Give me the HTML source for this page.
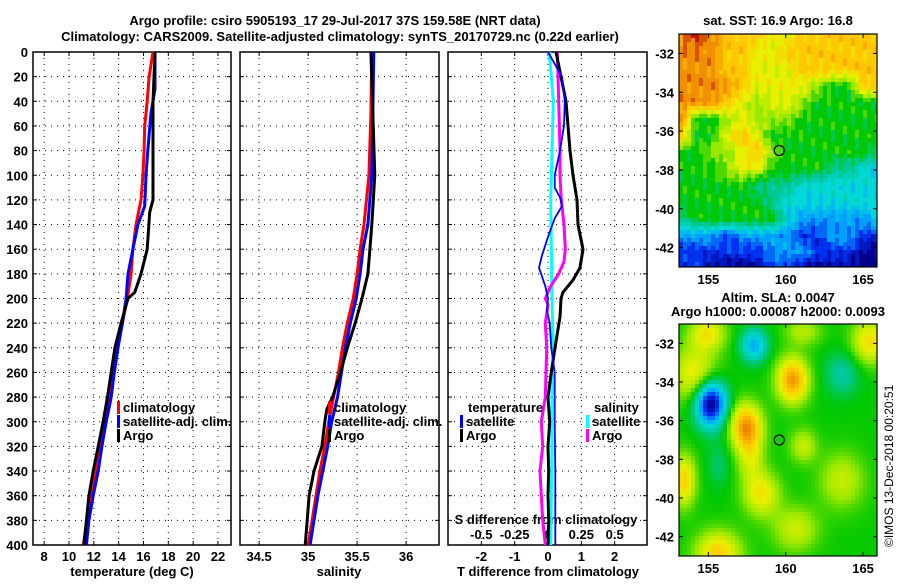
<!DOCTYPE html>
<html><head><meta charset="utf-8"><style>
body{margin:0;background:#fff;width:900px;height:580px;overflow:hidden}
svg text{font-family:"Liberation Sans",sans-serif;font-weight:bold;font-size:13px;fill:#000}
</style></head><body>
<svg id="s" width="900" height="580" xmlns="http://www.w3.org/2000/svg">
<text x="335" y="25" text-anchor="middle">Argo profile: csiro 5905193_17 29-Jul-2017 37S 159.58E (NRT data)</text>
<text x="340" y="41" text-anchor="middle">Climatology: CARS2009. Satellite-adjusted climatology: synTS_20170729.nc (0.22d earlier)</text>
<text x="778" y="25" text-anchor="middle">sat. SST: 16.9 Argo: 16.8</text>
<text x="778" y="302" text-anchor="middle">Altim. SLA: 0.0047</text>
<text x="778" y="316" text-anchor="middle">Argo h1000: 0.00087 h2000: 0.0093</text>
<text transform="translate(893,547) rotate(-90)" style="font-weight:normal;font-size:12px">©IMOS 13-Dec-2018 00:20:51</text>
<g id="g"></g>
</svg>
<script>
// ---- data ----
const depthTick=[0,20,40,60,80,100,120,140,160,180,200,220,240,260,280,300,320,340,360,380,400];
const tTicks=[8,10,12,14,16,18,20,22];
const sTicks=[34.5,35,35.5,36];
const sTickLbl=["34.5","35","35.5","36"];
const dTicks=[-2,-1,0,1,2];
const sdTicks=[-0.5,-0.25,0,0.25,0.5];
const sdTickLbl=["-0.5","-0.25","0","0.25","0.5"];

const tClimD=[0,20,40,60,80,100,120,140,160,180,200,220,240,260,280,300,320,340,360,380,400];
const tClim=[16.77,16.45,16.3,16.1,16.05,15.95,15.8,15.4,15.15,15.0,14.7,14.3,13.9,13.55,13.2,12.8,12.5,12.2,11.8,11.45,11.15];
const tSatD=[0,30,50,80,100,125,140,160,180,200,220,240,260,280,300,320,340,360,380,400];
const tSat=[16.93,16.93,16.6,16.35,16.2,16.1,15.55,15.15,14.75,14.6,14.3,13.95,13.65,13.4,13.0,12.65,12.35,11.95,11.6,11.4];
const tArgoD=[0,40,120,130,160,180,195,200,220,240,260,280,300,320,340,360,380,400];
const tArgo=[16.93,16.77,16.77,16.5,16.3,15.8,15.3,14.75,14.2,13.7,13.4,13.1,12.75,12.35,11.95,11.6,11.4,11.2];

const sD=[0,50,100,140,160,180,200,220,240,260,280,300,320,340,360,380,400];
const sClim=[35.65,35.64,35.62,35.57,35.53,35.50,35.46,35.40,35.35,35.31,35.26,35.21,35.17,35.12,35.08,35.04,35.0];
const sSat=[35.67,35.66,35.65,35.61,35.56,35.53,35.49,35.43,35.38,35.34,35.30,35.24,35.20,35.15,35.10,35.06,35.02];
const sArgoD=[0,100,140,160,180,200,220,240,260,280,290,300,320,340,360,380,400];
const sArgo=[35.64,35.68,35.65,35.63,35.61,35.55,35.48,35.40,35.33,35.25,35.19,35.17,35.14,35.06,35.01,34.99,34.97];

const dTSatD=[0,20,40,60,80,100,110,118,125,135,150,165,175,190,200,210,220,240,260,300,340,400];
const dTSat=[0,0.42,0.5,0.48,0.36,0.2,0.2,0.36,0.42,0.2,0,-0.18,-0.27,-0.08,0,-0.03,0.05,0.1,0.2,0.2,0.22,0.22];
const dTArgoD=[0,20,40,60,80,100,120,140,160,175,185,195,200,215,225,240,260,280,300,320,340,360,380,400];
const dTArgo=[0.24,0.39,0.54,0.6,0.66,0.75,0.87,0.9,1.05,0.96,0.75,0.45,0.39,0.36,0.3,0.21,0.1,0.0,0.05,0.0,0.02,0.0,0.02,0.0];
const dSD=[0,40,80,120,160,200,240,280,320,360,400];
const dSSat=[0.01,0.04,0.03,0.02,0.025,0.03,0.04,0.03,0.03,0.025,0.02];
const dSArgoD=[0,40,80,100,120,140,160,170,180,190,200,205,220,240,280,300,320,340,360,380,400];
const dSArgo=[0.07,0.08,0.09,0.09,0.1,0.12,0.13,0.12,0.08,0.02,-0.02,0.0,-0.02,-0.01,-0.02,-0.05,-0.04,-0.06,-0.05,-0.04,-0.02];

// ---- helpers ----
const NS="http://www.w3.org/2000/svg", G=document.getElementById('g');
function mk(t,a,p){const e=document.createElementNS(NS,t);for(const k in a)e.setAttribute(k,a[k]);(p||G).appendChild(e);return e;}
const TOP=52,BOT=545;
const yD=d=>TOP+d*(BOT-TOP)/400;
function lin(d0,d1,r0,r1){return v=>r0+(v-d0)*(r1-r0)/(d1-d0);}
const P=[{x0:33,x1:231},{x0:240,x1:439},{x0:448,x1:647}];
const xT=lin(7.1,23.05,33,231), xS=lin(34.305,36.335,240,439), xDT=lin(-3,3,448,648), xDS=lin(-0.75,0.75,448,648);

P.forEach((p,i)=>{
  const fr=mk('rect',{x:p.x0,y:TOP,width:p.x1-p.x0,height:BOT-TOP,fill:'#fff',stroke:'#000','stroke-width':1.5});
  
  
  depthTick.forEach(d=>{
    if(d>0&&d<400){const l=mk('line',{x1:p.x0,x2:p.x1,y1:yD(d),y2:yD(d),stroke:'#000','stroke-dasharray':'1 5'});
    
    
    mk('line',{x1:p.x0,x2:p.x0+4,y1:yD(d),y2:yD(d),stroke:'#000'});mk('line',{x1:p.x1-4,x2:p.x1,y1:yD(d),y2:yD(d),stroke:'#000'});}
  });
});
depthTick.forEach(d=>{const t=mk('text',{x:28,y:yD(d)+5,'text-anchor':'end'});t.textContent=d;
  
  });
function xticks(arr,lbl,sc,p,ty){arr.forEach((v,i)=>{const x=sc(v);
  const l=mk('line',{x1:x,x2:x,y1:TOP,y2:BOT,stroke:'#000','stroke-dasharray':'1 5'});
  
  
  mk('line',{x1:x,x2:x,y1:BOT-4,y2:BOT,stroke:'#000'});mk('line',{x1:x,x2:x,y1:TOP,y2:TOP+4,stroke:'#000'});
  const t=mk('text',{x:x,y:ty,'text-anchor':'middle'});t.textContent=lbl?lbl[i]:v;
  
  });}
xticks(tTicks,null,xT,P[0],561);
xticks(sTicks,sTickLbl,xS,P[1],561);
xticks(dTicks,null,xDT,P[2],561);
sdTicks.forEach((v,i)=>{const t=mk('text',{x:xDS(v),y:539,'text-anchor':'middle'});t.textContent=sdTickLbl[i];
  
  });
[['temperature (deg C)',132,'x-axis-title-temperature'],['salinity',339,'x-axis-title-salinity'],['T difference from climatology',548,'x-axis-title-t-diff']].forEach(a=>{
  const t=mk('text',{x:a[1],y:576,'text-anchor':'middle'});t.textContent=a[0];
  
  });
const sdt=mk('text',{x:546,y:524,'text-anchor':'middle'});sdt.textContent='S difference from climatology';



function line(ds,vs,sc,col,w,name){
  const pts=ds.map((d,i)=>sc(vs[i]).toFixed(1)+','+yD(d).toFixed(1)).join(' ');
  const e=mk('polyline',{points:pts,fill:'none',stroke:col,'stroke-width':w,'stroke-linejoin':'round'});
  
  
}
line(tClimD,tClim,xT,'#f00',3,'temp-climatology-line');
line(tSatD,tSat,xT,'#00f',3,'temp-satellite-adj-line');
line(tArgoD,tArgo,xT,'#000',3,'temp-argo-line');
line(sD,sClim,xS,'#f00',3,'sal-climatology-line');
line(sD,sSat,xS,'#00f',3,'sal-satellite-adj-line');
line(sArgoD,sArgo,xS,'#000',3,'sal-argo-line');
line(dSD,dSSat,xDS,'#0ff',3,'sdiff-satellite-line');
line(dSArgoD,dSArgo,xDS,'#f0f',3,'sdiff-argo-line');
line(dTArgoD,dTArgo,xDT,'#000',3,'tdiff-argo-line');
line(dTSatD,dTSat,xDT,'#00f',1.8,'tdiff-satellite-line');

function leg(x,y,col,txt,name){
  mk('rect',{x:x,y:y-11,width:3,height:13,fill:col});
  const t=mk('text',{x:x+6,y:y});t.textContent=txt;
  
  
}
leg(117,412,'#f00','climatology','legend-climatology');
leg(117,426,'#00f','satellite-adj. clim.','legend-satellite-adj');
leg(117,440,'#000','Argo','legend-argo');
leg(328,412,'#f00','climatology','legend-sal-climatology');
leg(328,426,'#00f','satellite-adj. clim.','legend-sal-satellite-adj');
leg(328,440,'#000','Argo','legend-sal-argo');
const tt=mk('text',{x:468,y:412});tt.textContent='temperature';


const st=mk('text',{x:594,y:412});st.textContent='salinity';


leg(460,426,'#00f','satellite','legend-t-satellite');
leg(460,440,'#000','Argo','legend-t-argo');
leg(586,426,'#0ff','satellite','legend-s-satellite');
leg(586,440,'#f0f','Argo','legend-s-argo');

// ---- maps ----
const stops=['#000090','#0030f0','#00a0ff','#00d8d8','#00c890','#00c800','#98e800','#e8f000','#ffc800','#f09000','#c01800'];
function hex(h){return [1,3,5].map(i=>parseInt(h.substr(i,2),16));}
function col(v){v=Math.max(0,Math.min(10,v));const i=Math.min(9,Math.floor(v)),f=v-i;const a=hex(stops[i]),b=hex(stops[i+1]);
  return 'rgb('+a.map((c,k)=>Math.round(c+(b[k]-c)*f)).join(',')+')';}
const sstGrid=["9A988877888888","99988778888888","99988777888888","99998777765588","99987677655555","95567666555555","85578755555555","55667865555554","55567755554433","55555444333333","55555543333333","45555553222223","22212222112211","11111122211100","11000011000000"];
function mapFrame(x0,y0,w,h,name){
  const r=mk('rect',{x:x0,y:y0,width:w,height:h,fill:'none',stroke:'#000','stroke-width':1.2});
  
  
}
function drawMap(x0,y0,w,h,fn,name){
  const g=mk('g',{});
  
  
  const c=4;
  for(let y=0;y<h;y+=c)for(let x=0;x<w;x+=c){
    mk('rect',{x:x0+x,y:y0+y,width:Math.min(c,w-x)+0.3,height:Math.min(c,h-y)+0.3,fill:col(fn(x/w,y/h,x,y))},g);
  }
}
function grd(u,v,x,y){const R=sstGrid.length,C=sstGrid[0].length;
  const fy=v*(R-1),fx=u*(C-1);const i=Math.floor(fy),j=Math.floor(fx),a=fy-i,b=fx-j;
  const g=(r,c)=>parseInt(sstGrid[Math.min(R-1,r)][Math.min(C-1,c)],16);
  let val=(g(i,j)*(1-b)+g(i,j+1)*b)*(1-a)+(g(i+1,j)*(1-b)+g(i+1,j+1)*b)*a;
  val+=(((x*7+y*13)%17)/17-0.5)*0.7;return Math.round(val*2)/2;}
drawMap(679,34,198,233,grd,'sst-map');
const blobs=[[155,-35,-5.4,0.7,0.85],[157.8,-32,-2.8,0.6,0.6],[160.3,-33.8,3.8,0.7,0.8],[157.3,-36.2,3.8,0.7,0.8],[157.6,-37.8,1.6,0.6,0.9],
[154,-33.5,2.2,1,1],[154.8,-31.4,2.2,0.8,0.6],[163.5,-33.5,-1.3,0.8,0.8],[165.3,-31.8,2.4,0.8,0.8],[155.5,-42.8,2.8,1,0.8],[160.5,-41.5,1.6,1,0.8],
[158.3,-39.7,2.2,0.8,0.8],[153.3,-39,2.7,0.5,0.9],[161,-37.2,1.5,0.6,0.6],[163.5,-39,1.5,1,1],[161,-31.3,1.3,0.8,0.5],[155.5,-38.2,-0.8,0.5,0.8]];
function sla(u,v){const lon=153.1+u*12.8,lat=-31-v*12;let s=5.05;
  blobs.forEach(b=>{s+=b[2]*Math.exp(-((lon-b[0])**2/(2*b[3]*b[3])+(lat-b[1])**2/(2*b[4]*b[4])));});return s;}
drawMap(679,324,198,232,sla,'sla-map');
mapFrame(679,34,198,233,'sst-map-frame');
mapFrame(679,324,198,232,'sla-map-frame');
[[34,267,'sst'],[324,556,'sla']].forEach(m=>{
  const ly=lin(-31,-43,m[0],m[1]);
  [-32,-34,-36,-38,-40,-42].forEach(l=>{const y=ly(l);
    mk('line',{x1:679,x2:683,y1:y,y2:y,stroke:'#000'});mk('line',{x1:873,x2:877,y1:y,y2:y,stroke:'#000'});
    const t=mk('text',{x:674,y:y+5,'text-anchor':'end'});t.textContent=l;
    
    });
  const lx=lin(153.1,165.9,679,877);
  [155,160,165].forEach(l=>{const x=lx(l);
    mk('line',{x1:x,x2:x,y1:m[0],y2:m[0]+4,stroke:'#000'});mk('line',{x1:x,x2:x,y1:m[1]-4,y2:m[1],stroke:'#000'});
    const t=mk('text',{x:x,y:m[1]+17,'text-anchor':'middle'});t.textContent=l;
    
    });
  const c=mk('circle',{cx:lx(159.58),cy:ly(-37),r:5,fill:'none',stroke:'#000','stroke-width':1.2});
  
  
});
</script>
</body></html>
